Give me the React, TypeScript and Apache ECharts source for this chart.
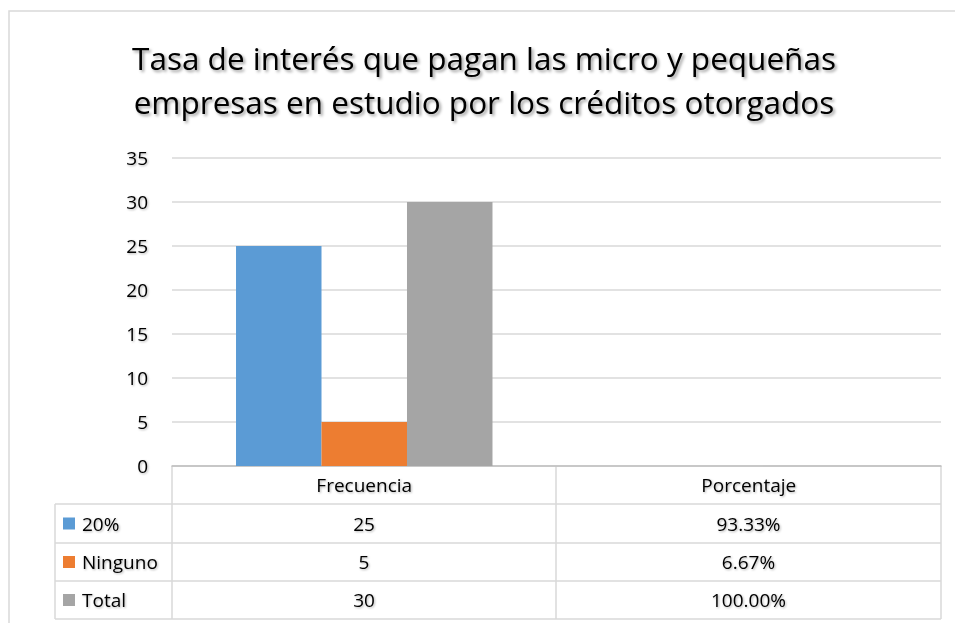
import React, { useEffect, useRef } from "react";
import * as echarts from "echarts";

const titleLines = [
  "Tasa de interés que pagan las micro y pequeñas",
  "empresas en estudio por los créditos otorgados",
];
const categories = ["Frecuencia", "Porcentaje"];
const seriesNames = ["20%", "Ninguno", "Total"];
const seriesColors = ["#5B9BD5", "#ED7D31", "#A5A5A5"];
const frecuencia = [25, 5, 30];
// Percentages are stored as text in the source sheet, so their bars sit at zero
const porcentajeBars = [0, 0, 0];
const porcentajeLabels = ["93.33%", "6.67%", "100.00%"];
const yMin = 0;
const yMax = 35;
const yInterval = 5;

const FONT = "'Open Sans', 'Noto Sans', sans-serif";
const shadow = {
  textShadowColor: "rgba(0,0,0,0.3)",
  textShadowBlur: 2,
  textShadowOffsetX: 1,
  textShadowOffsetY: 1,
};

export default function App() {
  const ref = useRef<HTMLDivElement>(null);
  useEffect(() => {
    if (!ref.current) return;
    const chart = echarts.init(ref.current, undefined, { renderer: "svg" });

    const gridL = 172;
    const gridR = 941;
    const axisY = 466;
    const tableLeft = 55;
    const rowLines = [504, 543, 581, 619];
    const colMid = 556;
    const colCenters = [(gridL + colMid) / 2, (colMid + gridR) / 2];
    const lineStyle = { stroke: "#D9D9D9", lineWidth: 1.5 };
    const cellFont = 19;

    const graphics: any[] = [];
    graphics.push({
      type: "rect",
      shape: { x: 9, y: 11, width: 970, height: 640 },
      style: { fill: "none", stroke: "#D9D9D9", lineWidth: 1.5 },
      silent: true,
    });
    graphics.push({
      type: "text",
      x: 484,
      y: 35,
      style: {
        text: titleLines.join("\n"),
        align: "center",
        verticalAlign: "top",
        fontFamily: FONT,
        fontSize: 31.5,
        lineHeight: 44,
        fill: "#000000",
        textShadowColor: "rgba(0,0,0,0.38)",
        textShadowBlur: 3,
        textShadowOffsetX: 2,
        textShadowOffsetY: 2,
      },
    });
    rowLines.forEach((y) => {
      graphics.push({
        type: "line",
        shape: { x1: tableLeft, y1: y, x2: gridR, y2: y },
        style: lineStyle,
      });
    });
    graphics.push({
      type: "line",
      shape: { x1: tableLeft, y1: rowLines[0], x2: tableLeft, y2: rowLines[3] },
      style: lineStyle,
    });
    [gridL, colMid, gridR].forEach((x) => {
      graphics.push({
        type: "line",
        shape: { x1: x, y1: axisY, x2: x, y2: rowLines[3] },
        style: lineStyle,
      });
    });
    seriesNames.forEach((name, i) => {
      const top = rowLines[i];
      const bottom = rowLines[i + 1];
      const cy = (top + bottom) / 2;
      graphics.push({
        type: "rect",
        shape: { x: 63, y: cy - 6, width: 12, height: 12 },
        style: { fill: seriesColors[i] },
      });
      const cellStyle = {
        verticalAlign: "middle",
        fontFamily: FONT,
        fontSize: cellFont,
        fill: "#000000",
        ...shadow,
      };
      graphics.push({
        type: "text",
        x: 82,
        y: cy,
        style: { text: name, align: "left", ...cellStyle },
      });
      graphics.push({
        type: "text",
        x: colCenters[0],
        y: cy,
        style: { text: String(frecuencia[i]), align: "center", ...cellStyle },
      });
      graphics.push({
        type: "text",
        x: colCenters[1],
        y: cy,
        style: { text: porcentajeLabels[i], align: "center", ...cellStyle },
      });
    });

    chart.setOption({
      animation: false,
      grid: { left: gridL, right: 955 - gridR, top: 158, bottom: 623 - axisY },
      xAxis: {
        type: "category",
        data: categories,
        axisLine: { show: true, lineStyle: { color: "#BFBFBF", width: 1.5 } },
        axisTick: { show: false },
        axisLabel: {
          margin: 9,
          fontFamily: FONT,
          fontSize: cellFont,
          color: "#000000",
          ...shadow,
        },
      },
      yAxis: {
        type: "value",
        min: yMin,
        max: yMax,
        interval: yInterval,
        axisLine: { show: false },
        axisTick: { show: false },
        splitLine: { lineStyle: { color: "#D9D9D9", width: 1.5 } },
        axisLabel: {
          margin: 24,
          fontFamily: FONT,
          fontSize: 19,
          color: "#000000",
          ...shadow,
        },
      },
      series: seriesNames.map((name, i) => ({
        name,
        type: "bar",
        data: [frecuencia[i], porcentajeBars[i]],
        itemStyle: { color: seriesColors[i] },
        barGap: "0%",
        barCategoryGap: "33.3%",
      })),
      graphic: graphics,
    });
    return () => chart.dispose();
  }, []);
  return (
    <div
      ref={ref}
      style={{ position: "absolute", left: 0, top: 0, width: 955, height: 623, background: "#ffffff" }}
    />
  );
}
